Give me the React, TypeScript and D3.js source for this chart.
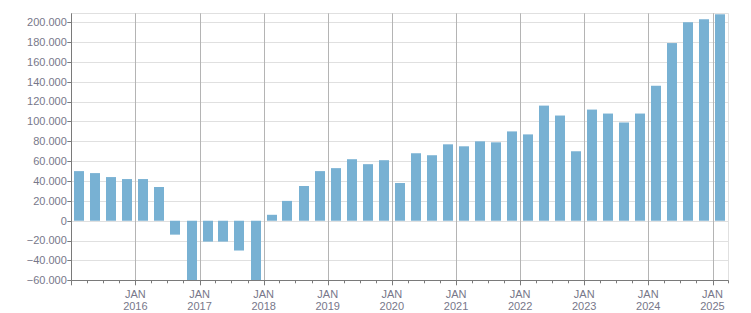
import React from "react";
import * as d3 from "d3";

const quarters: string[] = [
  "2015-01","2015-04","2015-07","2015-10",
  "2016-01","2016-04","2016-07","2016-10",
  "2017-01","2017-04","2017-07","2017-10",
  "2018-01","2018-04","2018-07","2018-10",
  "2019-01","2019-04","2019-07","2019-10",
  "2020-01","2020-04","2020-07","2020-10",
  "2021-01","2021-04","2021-07","2021-10",
  "2022-01","2022-04","2022-07","2022-10",
  "2023-01","2023-04","2023-07","2023-10",
  "2024-01","2024-04","2024-07","2024-10",
  "2025-01",
];
const values: number[] = [
  50000, 48000, 44000, 42000,
  42000, 34000, -14000, -60000,
  -21000, -21000, -30000, -60000,
  6000, 20000, 35000, 50000,
  53000, 62000, 57000, 61000,
  38000, 68000, 66000, 77000,
  75000, 80000, 79000, 90000,
  87000, 116000, 106000, 70000,
  112000, 108000, 99000, 108000,
  136000, 179000, 200000, 203000,
  208000,
];
const yTicks: number[] = [-60000, -40000, -20000, 0, 20000, 40000, 60000, 80000, 100000, 120000, 140000, 160000, 180000, 200000];
const years: number[] = [2016, 2017, 2018, 2019, 2020, 2021, 2022, 2023, 2024, 2025];

const W = 751, H = 313;
const L = 71.3, R = 728.3, T = 13.3, B = 280.3;
const FONT = "'Liberation Sans', Arial, sans-serif";
const TEXT = "#77778a";

export default function App() {
  const parse = d3.timeParse("%Y-%m");
  const x = d3.scaleTime().domain([new Date(2015, 0, 1), new Date(2025, 3, 1)]).range([L, R]);
  const y = d3.scaleLinear().domain([-60000, 209000]).range([B, T]);
  const fmt = (v: number) => (v === 0 ? "0" : d3.format(",")(v).replace(/,/g, "."));
  const qTicks = d3.timeMonth.every(3)!.range(new Date(2015, 0, 1), new Date(2025, 3, 2));
  const bw = 10;

  return (
    <svg width={W} height={H} style={{ position: "absolute", left: 0, top: 0 }}>
      <rect x={0} y={0} width={W} height={H} fill="#fff" />
      {/* horizontal grid */}
      {yTicks.map((t) => (
        <line key={"hg" + t} x1={L} x2={R} y1={Math.round(y(t)) + 0.5} y2={Math.round(y(t)) + 0.5} stroke="#e0e0e0" />
      ))}
      <line x1={L} x2={R} y1={Math.round(T) + 0.5} y2={Math.round(T) + 0.5} stroke="#e0e0e0" />
      <line x1={Math.round(R) + 0.5} x2={Math.round(R) + 0.5} y1={T} y2={B} stroke="#e0e0e0" />
      {/* vertical year grid */}
      {years.map((yr) => {
        const px = Math.round(x(new Date(yr, 0, 1))) + 0.5;
        return <line key={"vg" + yr} x1={px} x2={px} y1={T} y2={B} stroke="#b4b4b4" />;
      })}
      {/* bars */}
      {quarters.map((q, i) => {
        const d0 = parse(q)!;
        const d1 = d3.timeMonth.offset(d0, 3);
        const cx = (x(d0) + x(d1)) / 2;
        const v = values[i];
        const y0 = y(Math.max(0, v));
        const y1 = y(Math.min(0, v));
        return <rect key={q} x={Math.round(cx - bw / 2)} y={y0} width={bw} height={y1 - y0} fill="#78b1d3" />;
      })}
      {/* y axis */}
      <line x1={Math.round(L) + 0.5} x2={Math.round(L) + 0.5} y1={T} y2={B} stroke="#7a7a7a" />
      {yTicks.map((t) => (
        <g key={"yt" + t}>
          <line x1={L - 4} x2={L} y1={Math.round(y(t)) + 0.5} y2={Math.round(y(t)) + 0.5} stroke="#7a7a7a" />
          <text x={L - 4.5} y={y(t)} dy="0.35em" textAnchor="end" fontFamily={FONT} fontSize={11} fill={TEXT}>
            {fmt(t)}
          </text>
        </g>
      ))}
      {/* x axis */}
      <line x1={L} x2={R} y1={Math.round(B) + 0.5} y2={Math.round(B) + 0.5} stroke="#7a7a7a" />
      {qTicks.map((d) => {
        const px = Math.round(x(d)) + 0.5;
        const major = d.getMonth() === 0;
        return <line key={"xt" + d.getTime()} x1={px} x2={px} y1={B} y2={B + (major ? 5 : 3)} stroke="#7a7a7a" />;
      })}
      {years.map((yr) => {
        const px = x(new Date(yr, 0, 1));
        return (
          <g key={"yl" + yr}>
            <text x={px} y={294} dy="0.35em" textAnchor="middle" fontFamily={FONT} fontSize={11} fill={TEXT}>JAN</text>
            <text x={px} y={306} dy="0.35em" textAnchor="middle" fontFamily={FONT} fontSize={11} fill={TEXT}>{yr}</text>
          </g>
        );
      })}
    </svg>
  );
}
